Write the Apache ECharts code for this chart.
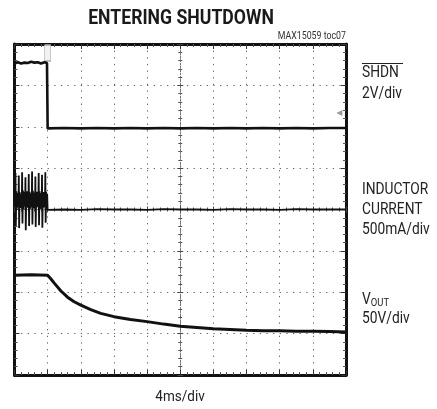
<!DOCTYPE html>
<html>
<head>
<meta charset="utf-8">
<script src="https://cdn.jsdelivr.net/npm/echarts@6/dist/echarts.min.js"></script>
<style>
html,body{margin:0;padding:0;background:#fff;}
#chart{width:437px;height:409px;}
</style>
</head>
<body>
<div id="chart"></div>
<script>
// time axis in divisions (4ms/div), vertical in divisions (0 = bottom of screen)
var xDivs = 10, yDivs = 8;

var shdnX = [0, 0.1, 0.2, 0.3, 0.4, 0.5, 0.6, 0.7, 0.8, 0.9, 0.98, 1.0, 1.05, 1.5, 2, 2.5, 3, 3.5, 4, 4.5, 5, 5.5, 6, 6.5, 7, 7.5, 8, 8.5, 9, 9.5, 10];
var shdnY = [7.53, 7.56, 7.53, 7.55, 7.54, 7.57, 7.55, 7.56, 7.53, 7.56, 7.54, 5.96, 5.96, 5.97, 5.96, 5.97, 5.96, 5.97, 5.96, 5.97, 5.96, 5.97, 5.96, 5.97, 5.96, 5.97, 5.96, 5.97, 5.96, 5.97, 5.97];

// inductor current: switching bursts before shutdown, then flat at zero
var curX = [0,
  0.02, 0.03, 0.04, 0.055, 0.07, 0.085, 0.1,
  0.12, 0.13, 0.14, 0.155, 0.17, 0.185, 0.2,
  0.22, 0.23, 0.24, 0.255, 0.27, 0.285, 0.3,
  0.32, 0.33, 0.34, 0.355, 0.37, 0.385, 0.4,
  0.42, 0.43, 0.44, 0.455, 0.47, 0.485, 0.5,
  0.52, 0.53, 0.54, 0.555, 0.57, 0.585, 0.6,
  0.62, 0.63, 0.64, 0.655, 0.67, 0.685, 0.7,
  0.72, 0.73, 0.74, 0.755, 0.77, 0.785, 0.8,
  0.82, 0.83, 0.84, 0.855, 0.87, 0.885, 0.9,
  0.92, 0.93, 0.94, 0.955, 0.97, 0.985, 1.0,
  1.5, 2, 2.5, 3, 3.5, 4, 4.5, 5, 5.5, 6, 6.5, 7, 7.5, 8, 8.5, 9, 9.5, 10];
var curY = [4.1,
  4.15, 4.88, 3.60, 4.44, 4.02, 4.40, 4.06,
  4.12, 4.82, 3.55, 4.42, 4.05, 4.38, 4.04,
  4.10, 4.90, 3.66, 4.46, 4.00, 4.42, 4.08,
  4.14, 4.78, 3.50, 4.40, 4.04, 4.44, 4.05,
  4.10, 4.86, 3.60, 4.43, 4.02, 4.39, 4.06,
  4.12, 4.92, 3.64, 4.45, 4.03, 4.41, 4.04,
  4.11, 4.80, 3.58, 4.42, 4.05, 4.43, 4.07,
  4.13, 4.88, 3.62, 4.44, 4.01, 4.40, 4.05,
  4.10, 4.84, 3.56, 4.41, 4.04, 4.42, 4.06,
  4.12, 4.90, 3.68, 4.43, 4.03, 4.38, 3.99,
  4.00, 3.99, 4.01, 4.00, 4.00, 3.99, 4.01, 4.00, 4.00, 3.99, 4.01, 4.00, 4.00, 3.99, 4.01, 4.00, 4.00, 4.00];

var voutX = [0, 0.5, 1.0, 1.1, 1.2, 1.4, 1.6, 1.8, 2.0, 2.3, 2.6, 3.0, 3.5, 4.0, 4.5, 5.0, 5.5, 6.0, 6.5, 7.0, 7.5, 8.0, 8.5, 9.0, 9.5, 10];
var voutY = [2.41, 2.42, 2.41, 2.32, 2.22, 2.03, 1.88, 1.77, 1.69, 1.58, 1.49, 1.41, 1.34, 1.29, 1.23, 1.18, 1.15, 1.12, 1.10, 1.08, 1.07, 1.07, 1.06, 1.06, 1.05, 1.04];

function zip(xs, ys) {
  var out = [];
  for (var i = 0; i < xs.length; i++) out.push([xs[i], ys[i]]);
  return out;
}

var gridBox = {left: 14.5, top: 44, width: 331.5, height: 331};
var dotted = {color: '#666', width: 1, type: [1.3, 5.33]};

function frameX(pos, withSplit) {
  return {
    type: 'value', min: 0, max: xDivs, interval: 1, position: pos,
    axisLine: {show: true, onZero: false, lineStyle: {color: '#111', width: 3}},
    axisTick: {show: true, inside: true, length: 5, lineStyle: {color: '#333'}},
    minorTick: {show: true, splitNumber: 5, length: 3, lineStyle: {color: '#555'}},
    axisLabel: {show: false},
    splitLine: {show: withSplit, lineStyle: dotted}
  };
}
function frameY(pos, withSplit) {
  return {
    type: 'value', min: 0, max: yDivs, interval: 1, position: pos,
    axisLine: {show: true, onZero: false, lineStyle: {color: '#111', width: 3}},
    axisTick: {show: true, inside: true, length: 5, lineStyle: {color: '#333'}},
    minorTick: {show: true, splitNumber: 5, length: 3, lineStyle: {color: '#555'}},
    axisLabel: {show: false},
    splitLine: {show: withSplit, lineStyle: dotted}
  };
}
// centre cross with ticks on both sides
function centreX(inside) {
  return {
    type: 'value', min: 0, max: xDivs, interval: 1, position: 'bottom', offset: -gridBox.height / 2,
    axisLine: {show: true, onZero: false, lineStyle: {color: '#777', width: 1, type: [1.5, 1.8]}},
    axisTick: {show: true, inside: inside, length: 3, lineStyle: {color: '#444'}},
    minorTick: {show: true, splitNumber: 5, length: 2, lineStyle: {color: '#555'}},
    axisLabel: {show: false}, splitLine: {show: false}
  };
}
function centreY(inside) {
  return {
    type: 'value', min: 0, max: yDivs, interval: 1, position: 'left', offset: -gridBox.width / 2,
    axisLine: {show: true, onZero: false, lineStyle: {color: '#777', width: 1, type: [1.5, 1.8]}},
    axisTick: {show: true, inside: inside, length: 3, lineStyle: {color: '#444'}},
    minorTick: {show: true, splitNumber: 5, length: 2, lineStyle: {color: '#555'}},
    axisLabel: {show: false}, splitLine: {show: false}
  };
}

var lblFont = 'Roboto, "Liberation Sans", sans-serif';
function label(txt, x, y) {
  return {type: 'text', x: x, y: y, scaleX: 0.86, style: {text: txt, fill: '#222', font: '16px ' + lblFont}};
}

var chart = echarts.init(document.getElementById('chart'), null, {renderer: 'canvas'});
var option = {
  animation: false,
  backgroundColor: '#fff',
  grid: gridBox,
  xAxis: [frameX('bottom', true), frameX('top', false), centreX(true), centreX(false)],
  yAxis: [frameY('left', true), frameY('right', false), centreY(true), centreY(false)],
  series: [
    {
      name: 'SHDN', type: 'line', xAxisIndex: 0, yAxisIndex: 0, showSymbol: false, z: 5,
      data: zip(shdnX, shdnY), lineStyle: {color: '#111', width: 2.6},
      markPoint: {
        silent: true, label: {show: false},
        data: [
          {coord: [1, 8], symbol: 'rect', symbolSize: [6, 16], symbolOffset: [0, 9],
            itemStyle: {color: '#f2f2f2', borderColor: '#aaa', borderWidth: 1}},
          {coord: [9.8, 6.33], symbol: 'triangle', symbolRotate: 90, symbolSize: [6, 6],
            itemStyle: {color: '#999'}}
        ]
      }
    },
    {
      name: 'INDUCTOR CURRENT', type: 'line', xAxisIndex: 0, yAxisIndex: 0, showSymbol: false, z: 5,
      data: zip(curX, curY), lineStyle: {color: '#111', width: 1.8}
    },
    {
      name: 'VOUT', type: 'line', xAxisIndex: 0, yAxisIndex: 0, showSymbol: false, z: 5,
      data: zip(voutX, voutY), lineStyle: {color: '#111', width: 3}
    }
  ],
  graphic: [
    {type: 'text', x: 181, y: 8, scaleX: 0.84,
      style: {text: 'ENTERING SHUTDOWN', align: 'center', fill: '#1a1a1a', font: 'bold 21px Roboto, sans-serif'}},
    {type: 'text', x: 346, y: 31, scaleX: 0.88,
      style: {text: 'MAX15059 toc07', align: 'right', fill: '#333', font: '10px ' + lblFont}},
    {type: 'line', shape: {x1: 362, y1: 63.5, x2: 403, y2: 63.5}, style: {stroke: '#222', lineWidth: 1}},
    label('SHDN', 362, 65),
    label('2V/div', 362, 86),
    label('INDUCTOR', 362, 182),
    label('CURRENT', 362, 202),
    label('500mA/div', 362, 222),
    {type: 'text', x: 362, y: 292, scaleX: 0.86,
      style: {text: '{v|V}{s|OUT}', fill: '#222',
        rich: {v: {font: '16px ' + lblFont, fill: '#222', verticalAlign: 'bottom'},
               s: {font: '11px ' + lblFont, fill: '#222', verticalAlign: 'bottom', padding: [0, 0, -1, 0]}}}},
    label('50V/div', 362, 311),
    {type: 'text', x: 180, y: 390, scaleX: 0.9,
      style: {text: '4ms/div', align: 'center', fill: '#222', font: '15px ' + lblFont}}
  ]
};
chart.setOption(option);
</script>
</body>
</html>
